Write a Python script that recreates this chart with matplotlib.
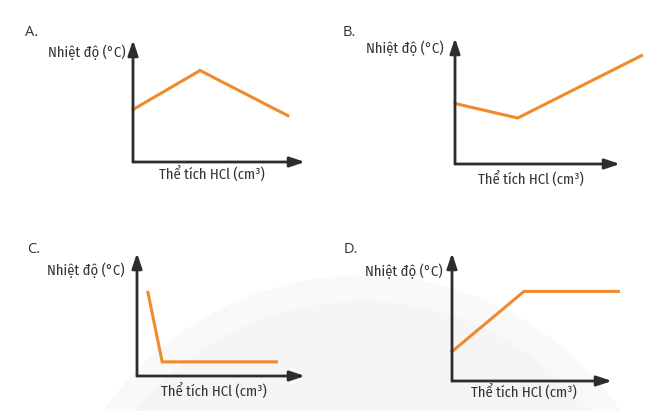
import matplotlib
matplotlib.use("Agg")
import matplotlib.pyplot as plt
from matplotlib.patches import Circle

plt.rcParams['font.family'] = ['Fira Sans Condensed', 'DejaVu Sans']
plt.rcParams['font.weight'] = 'normal'

W, H = 649, 411

# Dữ liệu (đơn vị tuỳ ý, trục 0..10)
a_x = [0, 3.9, 9.0]
a_y = [4.3, 7.5, 3.8]
b_x = [0, 3.8, 11.3]
b_y = [4.8, 3.65, 8.6]
c_x = [0.65, 1.5, 8.3]
c_y = [6.8, 1.15, 1.15]
d_x = [0, 4.5, 10.4]
d_y = [2.3, 7.0, 7.0]

panel_names = ["A.", "B.", "C.", "D."]
ylabel = "Nhiệt độ (°C)"
xlabel = "Thể tích HCl (cm³)"

ORANGE = "#f08a2a"
AXIS = "#2d2d2d"
TEXT = "#333333"

fig = plt.figure(figsize=(W / 100, H / 100), dpi=100)
fig.patch.set_facecolor("white")

# Hintergrund-Wasserzeichen
bg = fig.add_axes([0, 0, 1, 1])
bg.set_xlim(0, W)
bg.set_ylim(H, 0)
bg.axis("off")
bg.add_patch(Circle((362, 590), 314, color="#f9f9f9", zorder=0))
bg.add_patch(Circle((362, 590), 288, color="#f5f5f5", zorder=0))

# (origin_x, origin_y, x_tip, y_tip) in Pixel
panels = [
    ((133, 162, 305, 40), a_x, a_y, (25, 33), (87, 52), (212, 175)),
    ((455, 164, 620, 38), b_x, b_y, (343, 33), (405, 48), (531, 180)),
    ((137, 376, 305, 253), c_x, c_y, (27, 249), (86, 270), (214, 392)),
    ((452, 381, 612, 253), d_x, d_y, (344, 249), (404, 271), (524, 393)),
]

for name, (box, xs, ys, npos, ypos, xpos) in zip(panel_names, panels):
    ox, oy, tx, ty = box
    ax = fig.add_axes([ox / W, 1 - oy / H, (tx - ox) / W, (oy - ty) / H])
    ax.set_xlim(0, 10)
    ax.set_ylim(0, 10)
    ax.axis("off")
    ax.patch.set_alpha(0)
    ax.plot(xs, ys, color=ORANGE, lw=2.2, clip_on=False, solid_joinstyle="miter", zorder=3)
    ax.annotate("", xy=(10, 0), xytext=(0, 0),
                arrowprops=dict(arrowstyle="-|>,head_length=0.9,head_width=0.3", lw=2, color=AXIS,
                                shrinkA=0, shrinkB=0), annotation_clip=False)
    ax.annotate("", xy=(0, 10), xytext=(0, 0),
                arrowprops=dict(arrowstyle="-|>,head_length=0.9,head_width=0.3", lw=2, color=AXIS,
                                shrinkA=0, shrinkB=0), annotation_clip=False)

    fig.text(npos[0] / W, 1 - npos[1] / H, name, fontsize=10.5, color=TEXT,
             ha="left", va="center", family=['Open Sans', 'DejaVu Sans'])
    fig.text(ypos[0] / W, 1 - ypos[1] / H, ylabel, fontsize=10.5, color=TEXT,
             ha="center", va="center", fontweight="normal")
    fig.text(xpos[0] / W, 1 - xpos[1] / H, xlabel, fontsize=10.5, color=TEXT,
             ha="center", va="center", fontweight="normal")

fig.savefig("out.png", dpi=100, facecolor="white")
